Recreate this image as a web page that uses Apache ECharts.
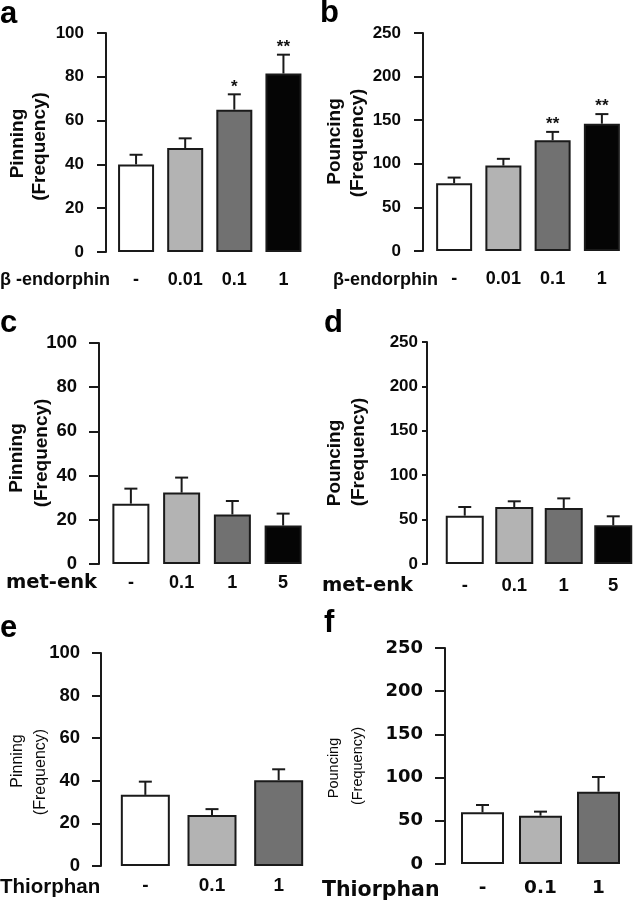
<!DOCTYPE html>
<html>
<head>
<meta charset="utf-8">
<script src="https://cdn.jsdelivr.net/npm/echarts@6/dist/echarts.min.js"></script>
<style>
html,body{margin:0;padding:0;background:#fff;}
#chart{width:638px;height:900px;}
</style>
</head>
<body>
<div id="chart"></div>
<script>
// ---- data ----
const catsBeta = ['-', '0.01', '0.1', '1'];
const catsMet = ['-', '0.1', '1', '5'];
const catsThio = ['-', '0.1', '1'];

const pinningBeta = [40, 47.5, 65, 81.5];
const pinningBetaSem = [4.4, 4.4, 7, 8.6];
const pinningBetaSig = ['', '', '*', '**'];

const pouncingBeta = [77.7, 98, 127, 146];
const pouncingBetaSem = [6.5, 7.7, 9.6, 11];
const pouncingBetaSig = ['', '', '**', '**'];

const pinningMet = [27.3, 32.3, 22.4, 17.4];
const pinningMetSem = [6.8, 6.8, 6.1, 5.4];

const pouncingMet = [54.4, 64.2, 63.1, 43.5];
const pouncingMetSem = [9.8, 6.4, 10.8, 10.2];

const pinningThio = [33.4, 24, 40.3];
const pinningThioSem = [6.2, 2.7, 5.1];

const pouncingThio = [59.8, 55.9, 83.7];
const pouncingThioSem = [8.5, 4.7, 17];

const pinningTicks = {max: 100, interval: 20};
const pouncingTicks = {max: 250, interval: 50};

const barColors = ['#ffffff', '#b3b3b3', '#717171', '#050505'];

// ---- layout ----
const AX = '#1a1a1a';
const ARIAL = 'Liberation Sans, Arial, sans-serif';
const DEJAVU = 'DejaVu Sans, sans-serif';

const panels = [
  {cats: catsBeta, vals: pinningBeta, sem: pinningBetaSem, sig: pinningBetaSig, ticks: pinningTicks,
   grid: {left: 111.5, top: 33, width: 196.5, height: 219}, offset: 5.5, barWidth: 36,
   tickLen: 9, labMargin: 22, tickFont: 17, tickFamily: ARIAL, catFont: 18, catMargin: 19, catFamily: ARIAL},
  {cats: catsBeta, vals: pouncingBeta, sem: pouncingBetaSem, sig: pouncingBetaSig, ticks: pouncingTicks,
   grid: {left: 429.5, top: 33, width: 197, height: 218}, offset: 6.5, barWidth: 36,
   tickLen: 9, labMargin: 22, tickFont: 17, tickFamily: ARIAL, catFont: 18, catMargin: 19, catFamily: ARIAL},
  {cats: catsMet, vals: pinningMet, sem: pinningMetSem, sig: [], ticks: pinningTicks,
   grid: {left: 105.5, top: 343, width: 203, height: 221}, offset: 6.5, barWidth: 37,
   tickLen: 10, labMargin: 22, tickFont: 18.5, tickFamily: ARIAL, catFont: 18, catMargin: 10, catFamily: ARIAL},
  {cats: catsMet, vals: pouncingMet, sem: pouncingMetSem, sig: [], ticks: pouncingTicks,
   grid: {left: 440, top: 342, width: 205, height: 222}, offset: 13, barWidth: 38,
   tickLen: 5, labMargin: 9, tickFont: 17, tickFamily: ARIAL, catFont: 18.5, catMargin: 12, catFamily: ARIAL},
  {cats: catsThio, vals: pinningThio, sem: pinningThioSem, sig: [], ticks: pinningTicks,
   grid: {left: 112, top: 653, width: 200, height: 213}, offset: 11, barWidth: 49,
   tickLen: 9, labMargin: 21, tickFont: 18.5, tickFamily: ARIAL, catFont: 19, catMargin: 10, catFamily: ARIAL},
  {cats: catsThio, vals: pouncingThio, sem: pouncingThioSem, sig: [], ticks: pouncingTicks,
   grid: {left: 453.5, top: 648, width: 174, height: 216}, offset: 8.5, barWidth: 43,
   tickLen: 10, labMargin: 22, tickFont: 18, tickFamily: DEJAVU, catFont: 18.5, catMargin: 15, catFamily: DEJAVU}
];

const grids = [], xAxes = [], yAxes = [], series = [];
panels.forEach((p, i) => {
  grids.push(Object.assign({containLabel: false}, p.grid));
  xAxes.push({
    type: 'category', gridIndex: i, data: p.cats,
    axisLine: {show: false}, axisTick: {show: false},
    axisLabel: {color: '#0a0a0a', fontFamily: p.catFamily, fontWeight: 'bold', fontSize: p.catFont, margin: p.catMargin}
  });
  yAxes.push({
    type: 'value', gridIndex: i, min: 0, max: p.ticks.max, interval: p.ticks.interval, offset: p.offset,
    axisLine: {show: true, lineStyle: {color: AX, width: 2}},
    axisTick: {show: true, length: p.tickLen, lineStyle: {color: AX, width: 2}},
    axisLabel: {color: '#0a0a0a', fontFamily: p.tickFamily, fontWeight: 'bold', fontSize: p.tickFont, margin: p.labMargin},
    splitLine: {show: false}
  });
  series.push({
    type: 'bar', xAxisIndex: i, yAxisIndex: i, barWidth: p.barWidth,
    itemStyle: {borderColor: AX, borderWidth: 2},
    data: p.vals.map((v, j) => ({value: v, itemStyle: {color: barColors[j]}})),
    animation: false, silent: true
  });
  series.push({
    type: 'custom', xAxisIndex: i, yAxisIndex: i, animation: false, silent: true, z: 5,
    data: p.vals.map((v, j) => [j, v, p.sem[j]]),
    renderItem: (params, api) => {
      const x = api.value(0), m = api.value(1), s = api.value(2);
      const p0 = api.coord([x, m]);
      const p1 = api.coord([x, m + s]);
      const children = [
        {type: 'line', shape: {x1: p0[0], y1: p0[1], x2: p1[0], y2: p1[1]}, style: {stroke: AX, lineWidth: 2}},
        {type: 'line', shape: {x1: p1[0] - 6.5, y1: p1[1], x2: p1[0] + 6.5, y2: p1[1]}, style: {stroke: AX, lineWidth: 2}}
      ];
      const sg = p.sig[params.dataIndex];
      if (sg) {
        children.push({type: 'text', style: {text: sg, x: p1[0], y: p1[1] + 1, align: 'center', verticalAlign: 'bottom',
          font: 'bold 17px ' + ARIAL, fill: '#111'}});
      }
      return {type: 'group', children: children};
    }
  });
});

function txt(text, x, y, font) {
  return {type: 'text', x: x, y: y, silent: true,
    style: {text: text, font: font, fill: '#0a0a0a', align: 'left', verticalAlign: 'middle'}};
}
function vtxt(text, cx, cy, font) {
  return {type: 'text', x: cx, y: cy, rotation: Math.PI / 2, silent: true,
    style: {text: text, font: font, fill: '#0a0a0a', align: 'center', verticalAlign: 'middle'}};
}
function letter(text, x, y) {
  return {type: 'text', x: x, y: y, silent: true,
    style: {text: text, font: 'bold 31px ' + ARIAL, fill: '#000', verticalAlign: 'bottom'}};
}

const BN = 'bold 19px ' + ARIAL;
const graphics = [
  letter('a', 0, 30), letter('b', 320, 29), letter('c', 0, 339),
  letter('d', 324, 339), letter('e', 0, 644), letter('f', 324, 639),
  // y axis names
  vtxt('Pinning', 18, 143.5, BN), vtxt('(Frequency)', 40, 146.5, BN),
  vtxt('Pouncing', 335, 141.5, BN), vtxt('(Frequency)', 358, 143, BN),
  vtxt('Pinning', 17, 458, BN), vtxt('(Frequency)', 42, 453, BN),
  vtxt('Pouncing', 335, 463, BN), vtxt('(Frequency)', 359, 452, BN),
  vtxt('Pinning', 18, 761, '16px ' + ARIAL), vtxt('(Frequency)', 41, 772, '16px ' + ARIAL),
  vtxt('Pouncing', 334, 768, '14.5px ' + ARIAL), vtxt('(Frequency)', 358, 766, '14.5px ' + ARIAL),
  // x axis names
  txt('β -endorphin', 0, 280, 'bold 18px ' + ARIAL),
  txt('β-endorphin', 333, 280, 'bold 18px ' + ARIAL),
  txt('met-enk', 6, 583, 'bold 19.5px ' + DEJAVU),
  txt('met-enk', 322, 586, 'bold 19.5px ' + DEJAVU),
  txt('Thiorphan', 0, 887, 'bold 20.5px ' + ARIAL),
  txt('Thiorphan', 322, 891, 'bold 20.5px ' + DEJAVU)
];

const chart = echarts.init(document.getElementById('chart'), null, {renderer: 'canvas'});
chart.setOption({
  backgroundColor: '#fff',
  animation: false,
  grid: grids, xAxis: xAxes, yAxis: yAxes, series: series,
  graphic: graphics
});
</script>
</body>
</html>
